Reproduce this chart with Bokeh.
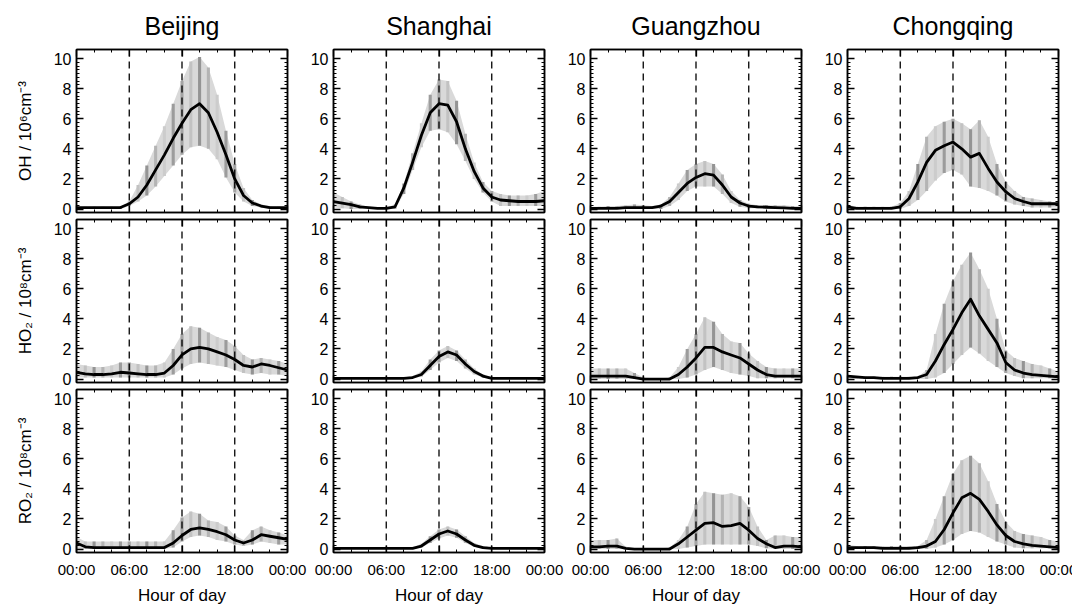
from bokeh.plotting import figure
from bokeh.layouts import gridplot
from bokeh.models import Range1d, FixedTicker, LinearAxis, Span, CustomJSTickFormatter
from bokeh.embed import file_html
from bokeh.resources import INLINE

HOURS = list(range(25))
CITIES = ["Beijing", "Shanghai", "Guangzhou", "Chongqing"]
Y_LABELS = ["OH / 10⁶cm⁻³", "HO₂ / 10⁸cm⁻³", "RO₂ / 10⁸cm⁻³"]
X_TICKS = [0, 6, 12, 18, 24]
X_TICK_LABELS = ["00:00", "06:00", "12:00", "18:00", "00:00"]
X_MINOR = [0, 2, 4, 6, 8, 10, 12, 14, 16, 18, 20, 22, 24]
Y_TICKS = [0, 2, 4, 6, 8, 10]
Y_MINOR = [0, 0.25, 0.5, 0.75, 1, 1.25, 1.5, 1.75, 2, 2.25, 2.5, 2.75, 3, 3.25, 3.5, 3.75,
           4, 4.25, 4.5, 4.75, 5, 5.25, 5.5, 5.75, 6, 6.25, 6.5, 6.75, 7, 7.25, 7.5, 7.75,
           8, 8.25, 8.5, 8.75, 9, 9.25, 9.5, 9.75, 10]
DAY_MARKS = [6, 12, 18]

# ---- OH (10^6 cm^-3) ----
BJ_OH_MED = [0.1, 0.1, 0.1, 0.1, 0.1, 0.1, 0.35, 0.8, 1.6, 2.6, 3.6, 4.7, 5.7, 6.6, 7.0, 6.4, 5.1, 3.6, 2.0, 0.9, 0.4, 0.2, 0.1, 0.1, 0.1]
BJ_OH_HI = [0.15, 0.15, 0.15, 0.15, 0.15, 0.15, 0.5, 1.6, 2.9, 4.2, 5.5, 7.0, 8.5, 9.8, 10.1, 9.4, 7.6, 5.2, 3.0, 1.4, 0.6, 0.3, 0.2, 0.15, 0.15]
BJ_OH_LO = [0.0, 0.0, 0.0, 0.0, 0.0, 0.0, 0.2, 0.5, 0.9, 1.5, 2.2, 2.9, 3.6, 4.1, 4.2, 4.0, 3.3, 2.1, 1.1, 0.5, 0.2, 0.1, 0.0, 0.0, 0.0]

SH_OH_MED = [0.5, 0.4, 0.3, 0.15, 0.1, 0.05, 0.05, 0.15, 1.4, 3.1, 4.9, 6.4, 7.0, 6.9, 5.8, 4.0, 2.5, 1.4, 0.8, 0.6, 0.55, 0.5, 0.5, 0.5, 0.55]
SH_OH_HI = [1.1, 0.8, 0.5, 0.3, 0.1, 0.1, 0.1, 0.3, 1.7, 3.7, 5.7, 7.6, 8.6, 8.5, 7.2, 5.0, 3.1, 1.8, 1.2, 1.0, 0.9, 0.9, 0.9, 1.0, 1.2]
SH_OH_LO = [0.1, 0.05, 0.0, 0.0, 0.0, 0.0, 0.0, 0.0, 1.0, 2.6, 4.1, 5.2, 5.3, 5.1, 4.3, 3.2, 2.0, 1.1, 0.5, 0.2, 0.2, 0.2, 0.2, 0.2, 0.2]

GZ_OH_MED = [0.05, 0.05, 0.05, 0.05, 0.1, 0.1, 0.1, 0.1, 0.2, 0.5, 1.1, 1.7, 2.1, 2.35, 2.25, 1.6, 0.8, 0.4, 0.2, 0.15, 0.12, 0.1, 0.08, 0.05, 0.05]
GZ_OH_HI = [0.15, 0.15, 0.2, 0.2, 0.25, 0.3, 0.25, 0.2, 0.3, 0.8, 1.7, 2.6, 3.0, 3.2, 3.0, 2.3, 1.2, 0.6, 0.35, 0.25, 0.25, 0.25, 0.25, 0.2, 0.2]
GZ_OH_LO = [0.0, 0.0, 0.0, 0.0, 0.0, 0.0, 0.0, 0.0, 0.0, 0.2, 0.6, 1.2, 1.5, 1.5, 1.5, 1.0, 0.4, 0.15, 0.05, 0.05, 0.05, 0.05, 0.0, 0.0, 0.0]

CQ_OH_MED = [0.15, 0.05, 0.05, 0.05, 0.05, 0.05, 0.15, 0.7, 1.8, 3.1, 3.9, 4.2, 4.45, 4.0, 3.45, 3.7, 2.7, 1.8, 1.15, 0.7, 0.5, 0.35, 0.35, 0.35, 0.35]
CQ_OH_HI = [0.3, 0.15, 0.15, 0.15, 0.15, 0.15, 0.4, 1.2, 3.0, 4.8, 5.5, 5.8, 6.0, 5.7, 5.3, 5.9, 4.8, 3.0, 1.8, 1.2, 0.8, 0.7, 0.6, 0.5, 0.4]
CQ_OH_LO = [0.0, 0.0, 0.0, 0.0, 0.0, 0.0, 0.0, 0.2, 0.6, 1.2, 1.9, 2.4, 2.6, 2.3, 1.5, 1.4, 1.2, 0.9, 0.5, 0.3, 0.2, 0.1, 0.1, 0.1, 0.1]

# ---- HO2 (10^8 cm^-3) ----
BJ_HO2_MED = [0.45, 0.35, 0.3, 0.3, 0.35, 0.45, 0.4, 0.35, 0.3, 0.3, 0.4, 0.9, 1.6, 2.0, 2.1, 2.0, 1.8, 1.6, 1.3, 0.9, 0.8, 1.0, 0.9, 0.75, 0.6]
BJ_HO2_HI = [1.0, 0.9, 0.8, 0.8, 0.9, 1.1, 1.1, 1.0, 0.9, 0.9, 1.1, 2.0, 3.0, 3.5, 3.4, 3.1, 2.8, 2.6, 2.2, 1.6, 1.3, 1.4, 1.3, 1.2, 1.0]
BJ_HO2_LO = [0.1, 0.1, 0.1, 0.1, 0.1, 0.1, 0.1, 0.1, 0.1, 0.1, 0.1, 0.3, 0.7, 1.0, 1.1, 1.0, 0.9, 0.8, 0.6, 0.4, 0.3, 0.4, 0.3, 0.3, 0.2]

SH_HO2_MED = [0.05, 0.05, 0.05, 0.05, 0.05, 0.05, 0.05, 0.05, 0.05, 0.1, 0.3, 0.9, 1.5, 1.8, 1.6, 1.0, 0.5, 0.2, 0.05, 0.05, 0.05, 0.05, 0.05, 0.05, 0.05]
SH_HO2_HI = [0.1, 0.1, 0.1, 0.1, 0.1, 0.1, 0.1, 0.1, 0.1, 0.2, 0.5, 1.3, 1.9, 2.2, 1.9, 1.3, 0.7, 0.3, 0.1, 0.1, 0.1, 0.1, 0.1, 0.1, 0.1]
SH_HO2_LO = [0.0, 0.0, 0.0, 0.0, 0.0, 0.0, 0.0, 0.0, 0.0, 0.05, 0.15, 0.6, 1.1, 1.4, 1.2, 0.7, 0.3, 0.1, 0.0, 0.0, 0.0, 0.0, 0.0, 0.0, 0.0]

GZ_HO2_MED = [0.2, 0.2, 0.2, 0.2, 0.2, 0.1, 0.0, 0.0, 0.0, 0.0, 0.3, 0.8, 1.4, 2.1, 2.1, 1.8, 1.6, 1.4, 1.0, 0.6, 0.3, 0.2, 0.2, 0.2, 0.2]
GZ_HO2_HI = [0.7, 0.7, 0.7, 0.7, 0.7, 0.4, 0.1, 0.05, 0.05, 0.1, 0.8, 2.0, 3.0, 4.1, 3.8, 3.0, 2.5, 2.4, 1.7, 1.2, 0.8, 0.7, 0.7, 0.7, 0.7]
GZ_HO2_LO = [0.0, 0.0, 0.0, 0.0, 0.0, 0.0, 0.0, 0.0, 0.0, 0.0, 0.0, 0.1, 0.3, 0.6, 0.8, 0.6, 0.4, 0.3, 0.2, 0.05, 0.05, 0.05, 0.05, 0.05, 0.05]

CQ_HO2_MED = [0.2, 0.15, 0.1, 0.1, 0.05, 0.05, 0.05, 0.05, 0.1, 0.3, 1.2, 2.3, 3.3, 4.4, 5.3, 4.2, 3.3, 2.4, 1.1, 0.6, 0.4, 0.3, 0.25, 0.2, 0.15]
CQ_HO2_HI = [0.3, 0.15, 0.15, 0.15, 0.15, 0.15, 0.15, 0.15, 0.15, 0.6, 3.0, 5.0, 6.5, 7.6, 8.4, 7.3, 6.0, 4.0, 1.9, 1.4, 1.2, 1.0, 0.9, 0.7, 0.5]
CQ_HO2_LO = [0.0, 0.0, 0.0, 0.0, 0.0, 0.0, 0.0, 0.0, 0.0, 0.0, 0.1, 0.4, 1.0, 1.6, 2.1, 1.7, 1.2, 0.8, 0.4, 0.2, 0.05, 0.05, 0.05, 0.05, 0.05]

# ---- RO2 (10^8 cm^-3) ----
BJ_RO2_MED = [0.4, 0.15, 0.1, 0.1, 0.1, 0.1, 0.1, 0.1, 0.1, 0.1, 0.1, 0.4, 0.9, 1.3, 1.4, 1.3, 1.15, 0.95, 0.6, 0.4, 0.6, 0.95, 0.85, 0.75, 0.65]
BJ_RO2_HI = [0.8, 0.5, 0.5, 0.5, 0.5, 0.5, 0.5, 0.5, 0.5, 0.5, 0.5, 1.25, 2.1, 2.5, 2.35, 1.9, 1.8, 1.5, 0.9, 0.6, 1.25, 1.5, 1.25, 1.1, 0.9]
BJ_RO2_LO = [0.0, 0.0, 0.0, 0.0, 0.0, 0.0, 0.0, 0.0, 0.0, 0.0, 0.0, 0.1, 0.5, 0.8, 0.9, 0.8, 0.6, 0.5, 0.3, 0.2, 0.3, 0.5, 0.4, 0.3, 0.3]

SH_RO2_MED = [0.05, 0.05, 0.05, 0.05, 0.05, 0.05, 0.05, 0.05, 0.05, 0.05, 0.2, 0.6, 1.0, 1.2, 1.0, 0.6, 0.25, 0.1, 0.05, 0.05, 0.05, 0.05, 0.05, 0.05, 0.05]
SH_RO2_HI = [0.1, 0.1, 0.1, 0.1, 0.1, 0.1, 0.1, 0.1, 0.1, 0.1, 0.35, 0.85, 1.3, 1.5, 1.3, 0.85, 0.4, 0.2, 0.1, 0.1, 0.1, 0.1, 0.1, 0.1, 0.1]
SH_RO2_LO = [0.0, 0.0, 0.0, 0.0, 0.0, 0.0, 0.0, 0.0, 0.0, 0.0, 0.1, 0.4, 0.7, 0.9, 0.75, 0.4, 0.15, 0.05, 0.0, 0.0, 0.0, 0.0, 0.0, 0.0, 0.0]

GZ_RO2_MED = [0.15, 0.15, 0.2, 0.2, 0.05, 0.0, 0.0, 0.0, 0.0, 0.0, 0.35, 0.8, 1.25, 1.7, 1.75, 1.5, 1.55, 1.7, 1.25, 0.7, 0.35, 0.1, 0.2, 0.2, 0.15]
GZ_RO2_HI = [0.6, 0.6, 0.6, 0.7, 0.15, 0.05, 0.05, 0.05, 0.05, 0.1, 0.6, 1.5, 3.0, 3.8, 3.7, 3.6, 3.7, 3.5, 2.8, 1.5, 0.6, 0.9, 0.9, 0.8, 0.8]
GZ_RO2_LO = [0.0, 0.0, 0.0, 0.0, 0.0, 0.0, 0.0, 0.0, 0.0, 0.0, 0.0, 0.1, 0.2, 0.3, 0.3, 0.3, 0.3, 0.3, 0.3, 0.2, 0.05, 0.0, 0.0, 0.0, 0.0]

CQ_RO2_MED = [0.1, 0.1, 0.1, 0.1, 0.05, 0.05, 0.05, 0.05, 0.1, 0.2, 0.5, 1.3, 2.4, 3.4, 3.7, 3.3, 2.5, 1.6, 0.9, 0.5, 0.35, 0.25, 0.2, 0.15, 0.1]
CQ_RO2_HI = [0.3, 0.2, 0.2, 0.2, 0.2, 0.2, 0.2, 0.2, 0.2, 0.6, 2.0, 3.5, 5.0, 5.9, 6.2, 5.7, 4.5, 3.0, 1.8, 1.2, 1.0, 0.9, 0.8, 0.6, 0.5]
CQ_RO2_LO = [0.0, 0.0, 0.0, 0.0, 0.0, 0.0, 0.0, 0.0, 0.0, 0.0, 0.1, 0.3, 0.6, 1.0, 1.2, 1.1, 0.8, 0.5, 0.3, 0.1, 0.05, 0.05, 0.05, 0.05, 0.05]

PANELS = [
    [(BJ_OH_MED, BJ_OH_LO, BJ_OH_HI), (SH_OH_MED, SH_OH_LO, SH_OH_HI),
     (GZ_OH_MED, GZ_OH_LO, GZ_OH_HI), (CQ_OH_MED, CQ_OH_LO, CQ_OH_HI)],
    [(BJ_HO2_MED, BJ_HO2_LO, BJ_HO2_HI), (SH_HO2_MED, SH_HO2_LO, SH_HO2_HI),
     (GZ_HO2_MED, GZ_HO2_LO, GZ_HO2_HI), (CQ_HO2_MED, CQ_HO2_LO, CQ_HO2_HI)],
    [(BJ_RO2_MED, BJ_RO2_LO, BJ_RO2_HI), (SH_RO2_MED, SH_RO2_LO, SH_RO2_HI),
     (GZ_RO2_MED, GZ_RO2_LO, GZ_RO2_HI), (CQ_RO2_MED, CQ_RO2_LO, CQ_RO2_HI)],
]

FONT = "Liberation Sans"
STRIPE_GRAYS = ["#a4a4a4", "#c2c2c2", "#949494", "#b4b4b4", "#cccccc", "#9c9c9c"]

FRAME_W = 211
BORDER_LEFT = [76, 24, 24, 24]
BORDER_RIGHT = [20, 20, 20, 20]
BORDER_TOP = [49, 2, 2]
BORDER_BOTTOM = [5, 5, 54]


def style_axis(ax):
    ax.axis_line_color = "black"
    ax.axis_line_width = 1.5
    ax.major_tick_in = 7
    ax.major_tick_out = 0
    ax.minor_tick_in = 3
    ax.minor_tick_out = 0
    ax.major_tick_line_color = "black"
    ax.major_tick_line_width = 1.3
    ax.minor_tick_line_color = "black"
    ax.minor_tick_line_width = 1
    ax.major_label_text_font = FONT
    ax.major_label_text_font_size = "16px"
    ax.major_label_text_color = "black"
    ax.axis_label_text_font = FONT
    ax.axis_label_text_font_size = "17px"
    ax.axis_label_text_font_style = "normal"
    ax.axis_label_text_color = "black"


def blank_axis(ticker):
    ax = LinearAxis(ticker=ticker, formatter=CustomJSTickFormatter(code="return ''"))
    style_axis(ax)
    ax.major_label_standoff = 0
    return ax


def make_panel(r, c, med, lo, hi):
    p = figure(frame_width=FRAME_W, frame_height=163,
               x_range=Range1d(0, 24), y_range=Range1d(-0.23, 10.6),
               x_axis_type=None, y_axis_type=None,
               output_backend="svg", toolbar_location=None,
               min_border_left=BORDER_LEFT[c], min_border_right=BORDER_RIGHT[c],
               min_border_top=BORDER_TOP[r], min_border_bottom=BORDER_BOTTOM[r])
    p.background_fill_color = "white"
    p.border_fill_color = "white"
    p.outline_line_color = "black"
    p.outline_line_width = 1.5

    xt = FixedTicker(ticks=X_TICKS, minor_ticks=X_MINOR)
    yt = FixedTicker(ticks=Y_TICKS, minor_ticks=Y_MINOR)

    left = LinearAxis(ticker=yt)
    style_axis(left)
    left.major_label_standoff = 5
    if c == 0:
        left.axis_label = Y_LABELS[r]
        left.axis_label_standoff = 16
    p.add_layout(left, "left")
    p.add_layout(blank_axis(yt), "right")
    p.add_layout(blank_axis(xt), "above")
    if r == 2:
        bottom = LinearAxis(ticker=xt)
        style_axis(bottom)
        bottom.major_label_text_font_size = "15px"
        bottom.major_label_overrides = {t: s for t, s in zip(X_TICKS, X_TICK_LABELS)}
        bottom.major_label_standoff = 8
        bottom.axis_label = "Hour of day"
        bottom.axis_label_standoff = 5
        p.add_layout(bottom, "below")
    else:
        p.add_layout(blank_axis(xt), "below")

    # variability band (striped grey)
    p.varea(x=HOURS, y1=lo, y2=hi, fill_color="#d9d9d9", fill_alpha=1.0)
    colors = [STRIPE_GRAYS[i % len(STRIPE_GRAYS)] for i in range(len(HOURS))]
    p.vbar(x=HOURS, bottom=lo, top=hi, width=0.35, fill_color=colors, line_color=None)

    for m in DAY_MARKS:
        p.add_layout(Span(location=m, dimension="height", line_color="black",
                          line_width=1.3, line_dash="7 5"))

    p.line(HOURS, med, line_color="black", line_width=2.8, line_join="round")

    if r == 0:
        p.title.text = CITIES[c]
        p.title.align = "center"
        p.title.text_font = FONT
        p.title.text_font_size = "25px"
        p.title.text_font_style = "normal"
        p.title.text_color = "black"
        p.title.standoff = 19
    return p


grid_rows = []
for r in range(3):
    grid_rows.append([make_panel(r, c, *PANELS[r][c]) for c in range(4)])

grid = gridplot(grid_rows, toolbar_location=None)

open("out.html", "w").write(file_html(grid, INLINE))
